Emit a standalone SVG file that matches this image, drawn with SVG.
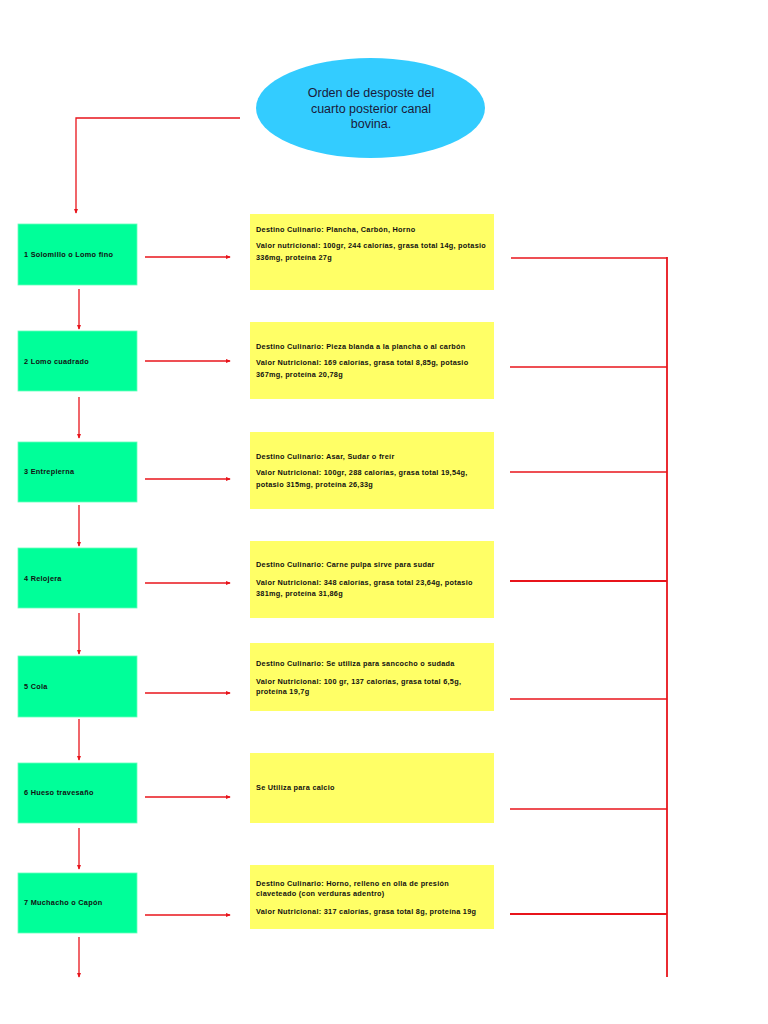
<svg xmlns="http://www.w3.org/2000/svg" width="768" height="1024" viewBox="0 0 768 1024">
<style>
.g{fill:#00FF99;stroke:#66FFBB;stroke-width:0.8}
.y{fill:#FFFF66}
.t{font-family:"Liberation Sans",Arial,sans-serif;font-size:7.3px;font-weight:bold;fill:#111;letter-spacing:0.28px}
.c{stroke:#E8141B;stroke-width:1.3;fill:none}
.ttl{font-family:"Liberation Sans",Arial,sans-serif;font-size:12.5px;fill:#1a1a3a;text-anchor:middle}
</style>
<defs>
<marker id="ah" viewBox="0 0 6 6" refX="5" refY="3" markerWidth="5" markerHeight="5" orient="auto" markerUnits="userSpaceOnUse">
<path d="M0,0.5 L6,3 L0,5.5 Z" fill="#E8141B"/>
</marker>
</defs>
<rect width="768" height="1024" fill="#fff"/>
<g id="title">
<ellipse cx="370.5" cy="108" rx="114.5" ry="50" fill="#33CCFF"/>
<text class="ttl" x="371" y="97">Orden de desposte del</text>
<text class="ttl" x="371" y="113">cuarto posterior canal</text>
<text class="ttl" x="371" y="128">bovina.</text>
</g>
<g id="connectors">
<path class="c" d="M240,118 H76 V213" marker-end="url(#ah)"/>
<path class="c" d="M79,289 V329" marker-end="url(#ah)"/>
<path class="c" d="M79,397 V438" marker-end="url(#ah)"/>
<path class="c" d="M79,505 V546" marker-end="url(#ah)"/>
<path class="c" d="M79,613 V654" marker-end="url(#ah)"/>
<path class="c" d="M79,719 V760" marker-end="url(#ah)"/>
<path class="c" d="M79,828 V869" marker-end="url(#ah)"/>
<path class="c" d="M79,937 V977" marker-end="url(#ah)"/>
<path class="c" d="M145,257 H230" marker-end="url(#ah)"/>
<path class="c" d="M145,361 H230" marker-end="url(#ah)"/>
<path class="c" d="M145,479 H230" marker-end="url(#ah)"/>
<path class="c" d="M145,583 H230" marker-end="url(#ah)"/>
<path class="c" d="M145,693 H230" marker-end="url(#ah)"/>
<path class="c" d="M145,797 H230" marker-end="url(#ah)"/>
<path class="c" d="M145,915 H230" marker-end="url(#ah)"/>
<path class="c" d="M511,258 H667"/>
<path class="c" d="M510,367 H667"/>
<path class="c" d="M510,472 H667"/>
<path class="c" d="M510,581 H667" style="stroke-width:1.8"/>
<path class="c" d="M510,699 H667"/>
<path class="c" d="M510,809 H667"/>
<path class="c" d="M510,914 H667" style="stroke-width:1.8"/>
<path class="c" d="M667,257 V977" style="stroke-width:1.8"/>
</g>
<g id="n1"><rect class="g" x="18" y="224" width="119" height="61"/><text class="t" x="24" y="257">1 Solomillo o Lomo fino</text></g>
<g id="n2"><rect class="g" x="18" y="331" width="119" height="60"/><text class="t" x="24" y="364">2 Lomo cuadrado</text></g>
<g id="n3"><rect class="g" x="18" y="442" width="119" height="60"/><text class="t" x="24" y="474">3 Entrepierna</text></g>
<g id="n4"><rect class="g" x="18" y="548" width="119" height="60"/><text class="t" x="24" y="581">4 Relojera</text></g>
<g id="n5"><rect class="g" x="18" y="656" width="119" height="61"/><text class="t" x="24" y="689">5 Cola</text></g>
<g id="n6"><rect class="g" x="18" y="763" width="119" height="60"/><text class="t" x="24" y="795">6 Hueso travesaño</text></g>
<g id="n7"><rect class="g" x="18" y="873" width="119" height="60"/><text class="t" x="24" y="905">7 Muchacho o Capón</text></g>
<g id="d1"><rect class="y" x="250" y="214" width="244" height="76"/>
<text class="t" x="256" y="232">Destino Culinario: Plancha, Carbón, Horno</text>
<text class="t" x="256" y="248">Valor nutricional: 100gr, 244 calorías, grasa total 14g, potasio</text>
<text class="t" x="256" y="260">336mg, proteína 27g</text></g>
<g id="d2"><rect class="y" x="250" y="322" width="244" height="77"/>
<text class="t" x="256" y="349">Destino Culinario: Pieza blanda a la plancha o al carbón</text>
<text class="t" x="256" y="365">Valor Nutricional: 169 calorías, grasa total 8,85g, potasio</text>
<text class="t" x="256" y="377">367mg, proteína 20,78g</text></g>
<g id="d3"><rect class="y" x="250" y="432" width="244" height="77"/>
<text class="t" x="256" y="459">Destino Culinario: Asar, Sudar o freír</text>
<text class="t" x="256" y="475">Valor Nutricional: 100gr, 288 calorías, grasa total 19,54g,</text>
<text class="t" x="256" y="487">potasio 315mg, proteína 26,33g</text></g>
<g id="d4"><rect class="y" x="250" y="541" width="244" height="77"/>
<text class="t" x="256" y="567">Destino Culinario: Carne pulpa sirve para sudar</text>
<text class="t" x="256" y="585">Valor Nutricional: 348 calorías, grasa total 23,64g, potasio</text>
<text class="t" x="256" y="596">381mg, proteína 31,86g</text></g>
<g id="d5"><rect class="y" x="250" y="643" width="244" height="68"/>
<text class="t" x="256" y="666">Destino Culinario: Se utiliza para sancocho o sudada</text>
<text class="t" x="256" y="684">Valor Nutricional: 100 gr, 137 calorías, grasa total 6,5g,</text>
<text class="t" x="256" y="694">proteína 19,7g</text></g>
<g id="d6"><rect class="y" x="250" y="753" width="244" height="70"/>
<text class="t" x="256" y="790">Se Utiliza para calcio</text></g>
<g id="d7"><rect class="y" x="250" y="865" width="244" height="64"/>
<text class="t" x="256" y="886">Destino Culinario: Horno, relleno en olla de presión</text>
<text class="t" x="256" y="896">claveteado (con verduras adentro)</text>
<text class="t" x="256" y="914">Valor Nutricional: 317 calorías, grasa total 8g, proteína 19g</text></g>
</svg>
